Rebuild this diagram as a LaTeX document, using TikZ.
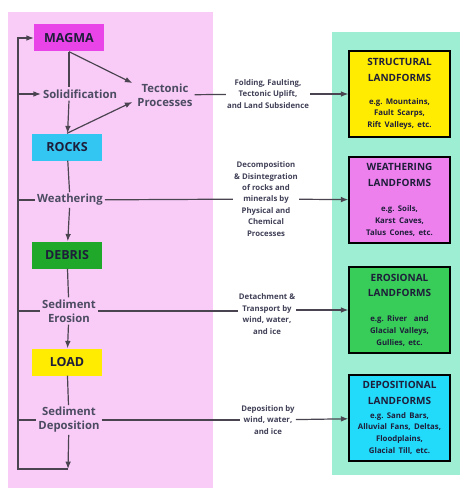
\documentclass[tikz,border=0pt]{standalone}
\usepackage{fontspec}
\setmainfont{Open Sans}
\usepackage{tikz}
\usetikzlibrary{arrows.meta,calc,positioning}
\definecolor{Ink}{HTML}{1E1E3A}
\definecolor{Line}{HTML}{4A4450}
\definecolor{PanelPink}{HTML}{F9CCF8}
\definecolor{PanelTeal}{HTML}{9DEED2}
\definecolor{Magma}{HTML}{E844E8}
\definecolor{Rocks}{HTML}{33C6F2}
\definecolor{Debris}{HTML}{1FA82A}
\definecolor{Load}{HTML}{FFEC00}
\definecolor{Weath}{HTML}{EE80EE}
\definecolor{Eros}{HTML}{38CC58}
\definecolor{Depo}{HTML}{22DAFA}
\tikzset{stage/.style={minimum width=70pt,minimum height=27pt,inner sep=0pt,text=Ink,font=\fontsize{12.5}{14}\selectfont\bfseries},process/.style={align=center,text=Ink!80,inner sep=2pt,font=\fontsize{11.3}{14}\selectfont\bfseries},note/.style={align=center,text=Ink!85,inner sep=1pt,font=\fontsize{7.8}{11.4}\selectfont\bfseries},landform/.style={draw=black,line width=1.4pt,minimum width=101pt,minimum height=86pt,text width=99pt,align=center,text=Ink,inner sep=1pt,font=\bfseries\frenchspacing},flow/.style={-{Latex[length=2.6mm,width=2mm]},line width=1.2pt,draw=Line},link/.style={line width=1.2pt,draw=Line}}
\newcommand{\ltitle}{\fontsize{10}{15.5}\selectfont}
\newcommand{\lbody}{\fontsize{7.8}{11.8}\selectfont}

\begin{document}
\begin{tikzpicture}[x=1pt,y=-1pt]
      \useasboundingbox (0,0) rectangle (473,500);
      \fill[PanelPink](8,12) rectangle (213,488);
      \fill[PanelTeal](332,32) rectangle (460,475);
      % cycle on the left
      \node[stage,fill=Magma](magma) at (69,38){MAGMA};
      \node[process](solid) at (80,94){Solidification};
      \node[process](tectonic) at (165,95){Tectonic\\Processes};
      \node[stage,fill=Rocks](rocks) at (67,147){ROCKS};
      \node[process,fill=PanelPink](weather) at (70,200){Weathering};
      \node[stage,fill=Debris](debris) at (67,255){DEBRIS};
      \node[process,fill=PanelPink](erosion) at (69,311){Sediment\\Erosion};
      \node[stage,fill=Load](load) at (67,362){LOAD};
      \node[process,fill=PanelPink](deposit) at (69,420){Sediment\\Deposition};
      \coordinate(bot) at (68,469);
      \coordinate(loop) at (18,38);
      % landforms on the right
      \node[landform,fill=Load](structural) at (399.5,94){\ltitle STRUCTURAL\\LANDFORMS\par\vspace{11pt}\lbody e.g.~Mountains,\\Fault Scarps,\\Rift Valleys, etc.\par};
      \node[landform,fill=Weath](weathering) at (399.5,200){\ltitle WEATHERING\\LANDFORMS\par\vspace{14pt}\lbody e.g.~Soils,\\Karst Caves,\\Talus Cones, etc.\par};
      \node[landform,fill=Eros](erosional) at (399.5,310){\ltitle EROSIONAL\\LANDFORMS\par\vspace{13pt}\lbody e.g.~River\ \ and\\Glacial Valleys,\\Gullies, etc.\par};
      \node[landform,fill=Depo](depositional) at (399.5,418){\ltitle DEPOSITIONAL\\LANDFORMS\par\vspace{2pt}\lbody e.g.~Sand Bars,\\Alluvial Fans, Deltas,\\Floodplains,\\Glacial Till, etc.\par};
      % labels of the links
      \node[note](lfold) at (268,94){Folding, Faulting,\\Tectonic Uplift,\\and Land Subsidence};
      \node[note](ldecomp) at (266,199){Decomposition\\\& Disintegration\\of rocks and\\minerals by\\Physical and\\Chemical\\Processes};
      \node[note](ldetach) at (267,314){Detachment \&\\Transport by\\wind, water,\\and ice};
      \node[note](ldepo) at (268,420){Deposition by\\wind, water,\\and ice};
      % links
      \draw[link](magma)--(solid.north -| magma);\draw[flow](solid.south -| magma)--(rocks);
      \draw[flow](magma.south)--($(tectonic.west)+(-3,-12)$);\draw[flow](rocks.north)--($(tectonic.west)+(-3,7)$);
      \draw[link](rocks)--(weather);\draw[flow](weather)--(debris);
      \draw[link](debris)--(erosion);\draw[flow](erosion)--(load);
      \draw[link](load)--(deposit);\draw[flow](deposit)--(bot);
      \draw[flow](bot)-|(loop)--(magma.west);
      \draw[flow](solid.west -| loop)--(solid.west);
      \draw[link](weather.west -| loop)--(weather.west);\draw[link](erosion.west -| loop)--(erosion.west);\draw[link](deposit.west -| loop)--(deposit.west);
      \draw[link](tectonic)--(lfold);\draw[flow](lfold)--(structural);
      \draw[link](weather)--(ldecomp);\draw[flow](ldecomp)--(weathering);
      \draw[link](erosion.east)--(erosion.east -| ldetach.west);\draw[flow](ldetach.east |- erosional)--(erosional);
      \draw[link](deposit)--(ldepo);\draw[flow](ldepo)--(depositional);
    \end{tikzpicture}
\end{document}
